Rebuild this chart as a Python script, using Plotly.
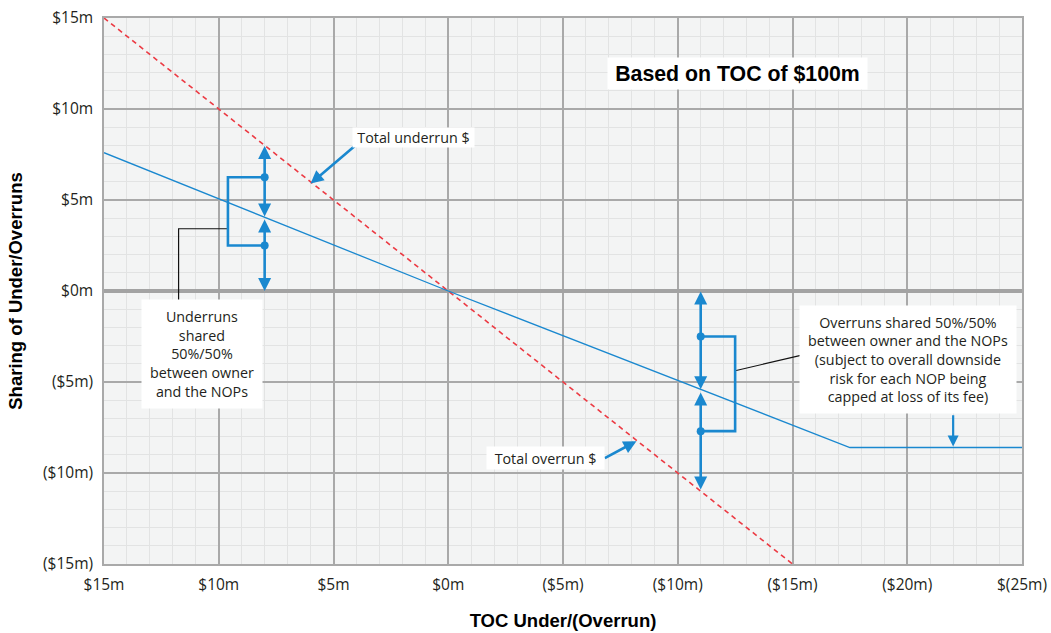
import plotly.graph_objects as go

# ---- data ----
x_ticks = [15, 10, 5, 0, -5, -10, -15, -20, -25]
x_tick_text = ["$15m", "$10m", "$5m", "$0m", "($5m)", "($10m)", "($15m)", "($20m)", "$(25m)"]
y_ticks = [15, 10, 5, 0, -5, -10, -15]
y_tick_text = ["$15m", "$10m", "$5m", "$0m", "($5m)", "($10m)", "($15m)"]

total_x = [15, -15]
total_y = [15, -15]

share_x = [15, 0, -17.5, -25]
share_y = [7.6, 0, -8.6, -8.6]

# double-headed arrows (x, y_from, y_to)
under_arrows = [(8, 8, 4.1), (8, 3.95, 0)]
over_arrows = [(-11, 0, -5.4), (-11, -5.55, -10.9)]

# bracket dots and bracket paths
dot_x = [8, 8, -11, -11]
dot_y = [6.25, 2.5, -2.5, -7.7]
bracket_under_x = [8, 9.6, 9.6, 8]
bracket_under_y = [6.25, 6.25, 2.5, 2.5]
bracket_over_x = [-11, -12.5, -12.5, -11]
bracket_over_y = [-2.5, -2.5, -7.7, -7.7]

BLUE = "#1a88cf"
RED = "#ec3a43"
TXT = "#231f20"
SANS = "Open Sans, sans-serif"
BOLD = "Liberation Sans, Arial, sans-serif"

fig = go.Figure()

fig.add_trace(go.Scatter(x=total_x, y=total_y, mode="lines",
                         line=dict(color=RED, width=1.6, dash="5px,4px"),
                         hoverinfo="skip", showlegend=False))
fig.add_trace(go.Scatter(x=share_x, y=share_y, mode="lines",
                         line=dict(color=BLUE, width=1.3),
                         hoverinfo="skip", showlegend=False))
# connector lines (black)
fig.add_trace(go.Scatter(x=[9.6, 11.75, 11.75], y=[3.42, 3.42, -0.6], mode="lines",
                         line=dict(color="#111111", width=1.2), hoverinfo="skip", showlegend=False))
fig.add_trace(go.Scatter(x=[-12.5, -15.5], y=[-4.38, -3.5], mode="lines",
                         line=dict(color="#111111", width=1.2), hoverinfo="skip", showlegend=False))
# brackets
fig.add_trace(go.Scatter(x=bracket_under_x, y=bracket_under_y, mode="lines",
                         line=dict(color=BLUE, width=2.6), hoverinfo="skip", showlegend=False))
fig.add_trace(go.Scatter(x=bracket_over_x, y=bracket_over_y, mode="lines",
                         line=dict(color=BLUE, width=2.6), hoverinfo="skip", showlegend=False))
fig.add_trace(go.Scatter(x=dot_x, y=dot_y, mode="markers",
                         marker=dict(color=BLUE, size=8), hoverinfo="skip", showlegend=False))

annotations = []


def arrow(x0, y0, x1, y1, side="end", width=2.6, head=2, size=1.0):
    annotations.append(dict(x=x1, y=y1, ax=x0, ay=y0, xref="x", yref="y", axref="x", ayref="y",
                            text="", showarrow=True, arrowhead=head, startarrowhead=head,
                            arrowsize=size, startarrowsize=size, font=dict(size=1),
                            borderpad=0, standoff=0, startstandoff=0,
                            arrowwidth=width, arrowcolor=BLUE, arrowside=side))


for (ax_, y0, y1) in under_arrows + over_arrows:
    arrow(ax_, y0, ax_, y1, side="end+start", width=2.6)

arrow(3.95, 8.1, 6.0, 5.9, width=2.6)
arrow(-6.8, -9.2, -8.2, -8.25, width=2.6)
arrow(-22, -6.8, -22, -8.55, width=2.2)


def box(x, y, text, w, h, size=14.3, bold=False):
    annotations.append(dict(x=x, y=y, xref="x", yref="y", text=text, showarrow=False,
                            bgcolor="white", borderpad=0, width=w, height=h,
                            align="center", valign="middle",
                            font=dict(family=BOLD if bold else SANS, size=size,
                                      color="#000" if bold else TXT)))


box(10.72, -3.46, "Underruns<br>shared<br>50%/50%<br>between owner<br>and the NOPs", 120, 108)
box(-20.04, -3.76, "Overruns shared 50%/50%<br>between owner and the NOPs<br>(subject to overall downside<br>risk for each NOP being<br>capped at loss of its fee)", 216, 107)
box(1.5, 8.43, "Total underrun $", 121, 19)
box(-4.25, -9.18, "Total overrun $", 117, 22)
box(-12.6, 11.95, "<b>Based on TOC of $100m</b>", 259, 31, size=21.3, bold=True)

fig.update_layout(
    width=1051, height=633,
    margin=dict(l=104, r=29, t=18, b=69, autoexpand=False),
    paper_bgcolor="white", plot_bgcolor="#f3f4f4",
    annotations=annotations,
    showlegend=False,
    font=dict(family=SANS, size=14, color=TXT),
)
fig.update_xaxes(range=[15, -25], tickvals=x_ticks, ticktext=x_tick_text, automargin=False,
                 tickfont=dict(family=SANS, size=15.5, color=TXT),
                 showgrid=True, gridcolor="#a9a9a9", gridwidth=1.5,
                 minor=dict(dtick=1, showgrid=True, gridcolor="#e2e3e3", gridwidth=1),
                 zeroline=False, showline=True, linecolor="#a9a9a9", linewidth=1.5, mirror=True,
                 ticks="outside", ticklen=6, tickcolor="rgba(0,0,0,0)",
                 title=dict(text="<b>TOC Under/(Overrun)</b>", standoff=20,
                            font=dict(family=BOLD, size=18.5, color="#000")))
fig.update_yaxes(range=[-15, 15], tickvals=y_ticks, ticktext=y_tick_text, automargin=False,
                 tickfont=dict(family=SANS, size=15.5, color=TXT),
                 showgrid=True, gridcolor="#a9a9a9", gridwidth=1.5,
                 minor=dict(dtick=1, showgrid=True, gridcolor="#e2e3e3", gridwidth=1),
                 zeroline=True, zerolinecolor="#a3a3a3", zerolinewidth=4,
                 showline=True, linecolor="#a9a9a9", linewidth=1.5, mirror=True,
                 ticks="outside", ticklen=6, tickcolor="rgba(0,0,0,0)",
                 title=dict(text="<b>Sharing of Under/Overruns</b>", standoff=16,
                            font=dict(family=BOLD, size=18.5, color="#000")))

fig.write_html("out.html", config={"displayModeBar": False},
               post_script="document.body.style.margin='0';")
